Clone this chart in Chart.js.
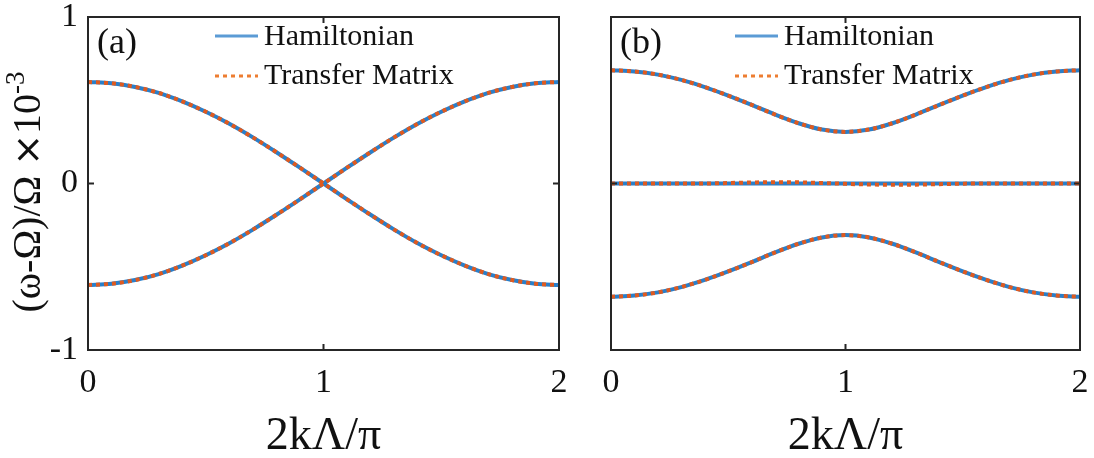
<!DOCTYPE html>
<html>
<head>
<meta charset="utf-8">
<script src="https://cdn.jsdelivr.net/npm/chart.js@4/dist/chart.umd.min.js"></script>
<style>
    html, body { margin: 0; padding: 0; background: #fff; }
    #wrap { position: relative; width: 1094px; height: 458px; }
    .panel { position: absolute; top: 0; }
</style>
</head>
<body>
<div id="wrap">
    <div class="panel" style="left:0"><canvas id="chartA" width="580" height="458"></canvas></div>
    <div class="panel" style="left:580px"><canvas id="chartB" width="514" height="458"></canvas></div>
</div>
<script>
// sample points along 2kΛ/π
const kValues = [0, 0.1, 0.2, 0.3, 0.4, 0.5, 0.6, 0.7, 0.8, 0.9, 1, 1.1, 1.2, 1.3, 1.4, 1.5, 1.6, 1.7, 1.8, 1.9, 2];
const yTicks = [-1, 0, 1];
const xTicks = [0, 1, 2];

// (a) two bands crossing at k = 1
const aBand1 = [0.61, 0.602, 0.58, 0.544, 0.493, 0.431, 0.359, 0.277, 0.188, 0.095, 0, -0.095, -0.188, -0.277, -0.359, -0.431, -0.493, -0.544, -0.58, -0.602, -0.61];
const aBand2 = [-0.61, -0.602, -0.58, -0.544, -0.493, -0.431, -0.359, -0.277, -0.188, -0.095, 0, 0.095, 0.188, 0.277, 0.359, 0.431, 0.493, 0.544, 0.58, 0.602, 0.61];
const aBand1TM = [0.61, 0.602, 0.58, 0.544, 0.493, 0.431, 0.359, 0.277, 0.188, 0.095, 0, -0.095, -0.188, -0.277, -0.359, -0.431, -0.493, -0.544, -0.58, -0.602, -0.61];
const aBand2TM = [-0.61, -0.602, -0.58, -0.544, -0.493, -0.431, -0.359, -0.277, -0.188, -0.095, 0, 0.095, 0.188, 0.277, 0.359, 0.431, 0.493, 0.544, 0.58, 0.602, 0.61];

// (b) gapped bands plus a flat band at zero
const bUpper = [0.68, 0.673, 0.654, 0.622, 0.579, 0.528, 0.472, 0.414, 0.362, 0.324, 0.31, 0.324, 0.362, 0.414, 0.472, 0.528, 0.579, 0.622, 0.654, 0.673, 0.68];
const bMiddle = [0, 0, 0, 0, 0, 0, 0, 0, 0, 0, 0, 0, 0, 0, 0, 0, 0, 0, 0, 0, 0];
const bLower = [-0.68, -0.673, -0.654, -0.622, -0.579, -0.528, -0.472, -0.414, -0.362, -0.324, -0.31, -0.324, -0.362, -0.414, -0.472, -0.528, -0.579, -0.622, -0.654, -0.673, -0.68];
const bUpperTM = [0.68, 0.673, 0.654, 0.622, 0.579, 0.528, 0.472, 0.414, 0.362, 0.324, 0.31, 0.324, 0.362, 0.414, 0.472, 0.528, 0.579, 0.622, 0.654, 0.673, 0.68];
const bMiddleTM = [0, 0, 0, 0, 0, 0.003, 0.006, 0.008, 0.007, 0.003, -0.002, -0.006, -0.008, -0.007, -0.004, -0.001, 0, 0, 0, 0, 0];
const bLowerTM = [-0.68, -0.673, -0.654, -0.622, -0.579, -0.528, -0.472, -0.414, -0.362, -0.324, -0.31, -0.324, -0.362, -0.414, -0.472, -0.528, -0.579, -0.622, -0.654, -0.673, -0.68];

const BLUE = "#2a7fc9";
const ORANGE = "#df5a1f";
const LEGEND_BLUE = "#5b9bd5";
const LEGEND_ORANGE = "#ed7d31";
const INK = "#262626";
const SERIF = "'Liberation Serif', 'Times New Roman', serif";

const toPoints = (ys) => kValues.map((x, i) => ({ x, y: ys[i] }));

const hamiltonian = (ys) => ({
    data: toPoints(ys),
    borderColor: BLUE,
    borderWidth: 4,
    pointRadius: 0,
    cubicInterpolationMode: "monotone",
    order: 1,
});

const transferMatrix = (ys) => ({
    data: toPoints(ys),
    borderColor: ORANGE,
    borderWidth: 4,
    borderDash: [4, 4],
    pointRadius: 0,
    cubicInterpolationMode: "monotone",
    order: 0,
});

/* ====== frame, inward ticks, labels, legend ====== */

const decorPlugin = {
    id: "decor",
    afterDraw(chart, args, opts) {
        const { ctx, chartArea: area, scales } = chart;
        const { x, y } = scales;
        ctx.save();

        // box
        ctx.strokeStyle = INK;
        ctx.lineWidth = 2;
        ctx.strokeRect(area.left, area.top, area.right - area.left, area.bottom - area.top);

        // inward ticks on all four sides
        ctx.beginPath();
        xTicks.forEach((v) => {
            const px = x.getPixelForValue(v);
            ctx.moveTo(px, area.bottom);
            ctx.lineTo(px, area.bottom - 6);
            ctx.moveTo(px, area.top);
            ctx.lineTo(px, area.top + 6);
        });
        yTicks.forEach((v) => {
            const py = y.getPixelForValue(v);
            ctx.moveTo(area.left, py);
            ctx.lineTo(area.left + 6, py);
            ctx.moveTo(area.right, py);
            ctx.lineTo(area.right - 6, py);
        });
        ctx.stroke();

        // panel tag
        ctx.fillStyle = "#111";
        ctx.font = `36px ${SERIF}`;
        ctx.textBaseline = "middle";
        ctx.textAlign = "left";
        ctx.fillText(opts.tag, area.left + 9, area.top + 27);

        // legend
        const lx = opts.legendX;
        ctx.lineWidth = 3;
        ctx.strokeStyle = LEGEND_BLUE;
        ctx.beginPath();
        ctx.moveTo(lx, 36);
        ctx.lineTo(lx + 43, 36);
        ctx.stroke();
        ctx.strokeStyle = LEGEND_ORANGE;
        ctx.setLineDash([4, 4]);
        ctx.beginPath();
        ctx.moveTo(lx, 76);
        ctx.lineTo(lx + 43, 76);
        ctx.stroke();
        ctx.setLineDash([]);
        ctx.font = `30px ${SERIF}`;
        ctx.fillText("Hamiltonian", lx + 49, 37);
        ctx.fillText("Transfer Matrix", lx + 49, 76);

        // x title
        ctx.font = `46px ${SERIF}`;
        ctx.textAlign = "center";
        ctx.fillText("2kΛ/π", (area.left + area.right) / 2, 437);

        // y title with ×10^-3
        if (opts.yTitle) {
            ctx.translate(27, 192);
            ctx.rotate(-Math.PI / 2);
            const main = "(ω-Ω)/Ω ";
            const times = "×";
            const base = "10";
            const sup = "-3";
            ctx.font = `40px ${SERIF}`;
            const wMain = ctx.measureText(main).width;
            const wBase = ctx.measureText(base).width;
            ctx.font = `38px 'DejaVu Sans', sans-serif`;
            const wTimes = ctx.measureText(times).width;
            ctx.font = `27px ${SERIF}`;
            const wSup = ctx.measureText(sup).width;
            let cx = -(wMain + wTimes + wBase + wSup) / 2;
            ctx.textAlign = "left";
            ctx.textBaseline = "alphabetic";
            ctx.font = `40px ${SERIF}`;
            ctx.fillText(main, cx, 13);
            cx += wMain;
            ctx.font = `38px 'DejaVu Sans', sans-serif`;
            ctx.fillText(times, cx, 13);
            cx += wTimes;
            ctx.font = `40px ${SERIF}`;
            ctx.fillText(base, cx, 13);
            cx += wBase;
            ctx.font = `27px ${SERIF}`;
            ctx.fillText(sup, cx, -3);
        }
        ctx.restore();
    },
};

function createPanel(canvasId, datasets, cfg) {
    const ctx = document.getElementById(canvasId).getContext("2d");
    return new Chart(ctx, {
        type: "line",
        data: { datasets },
        options: {
            responsive: false,
            animation: false,
            layout: { padding: { top: 17, right: cfg.padRight, bottom: 0, left: 0 } },
            plugins: {
                legend: { display: false },
                tooltip: { enabled: false },
                decor: { tag: cfg.tag, legendX: cfg.legendX, yTitle: cfg.yTitle },
            },
            scales: {
                x: {
                    type: "linear",
                    min: 0,
                    max: 2,
                    afterBuildTicks: (scale) => {
                        scale.ticks = xTicks.map((v) => ({ value: v }));
                    },
                    afterFit: (scale) => {
                        scale.height = 108;
                        scale.paddingLeft = 0;
                        scale.paddingRight = 0;
                    },
                    grid: { display: false, drawTicks: false },
                    border: { display: false },
                    ticks: { font: { family: SERIF, size: 34 }, color: "#111", padding: 13, maxRotation: 0 },
                },
                y: {
                    type: "linear",
                    min: -1,
                    max: 1,
                    afterBuildTicks: (scale) => {
                        scale.ticks = yTicks.map((v) => ({ value: v }));
                    },
                    afterFit: (scale) => {
                        scale.width = cfg.axisWidth;
                        scale.paddingTop = 0;
                        scale.paddingBottom = 0;
                    },
                    grid: { display: false, drawTicks: false },
                    border: { display: false },
                    ticks: { display: cfg.yLabels, font: { family: SERIF, size: 34 }, color: "#111", padding: 10 },
                },
            },
        },
        plugins: [decorPlugin],
    });
}

createPanel(
    "chartA",
    [hamiltonian(aBand1), hamiltonian(aBand2), transferMatrix(aBand1TM), transferMatrix(aBand2TM)],
    { tag: "(a)", legendX: 215, yTitle: true, yLabels: true, axisWidth: 88, padRight: 21 }
);

createPanel(
    "chartB",
    [
        hamiltonian(bUpper),
        hamiltonian(bMiddle),
        hamiltonian(bLower),
        transferMatrix(bUpperTM),
        transferMatrix(bMiddleTM),
        transferMatrix(bLowerTM),
    ],
    { tag: "(b)", legendX: 155, yTitle: false, yLabels: false, axisWidth: 31, padRight: 14 }
);
</script>
</body>
</html>
